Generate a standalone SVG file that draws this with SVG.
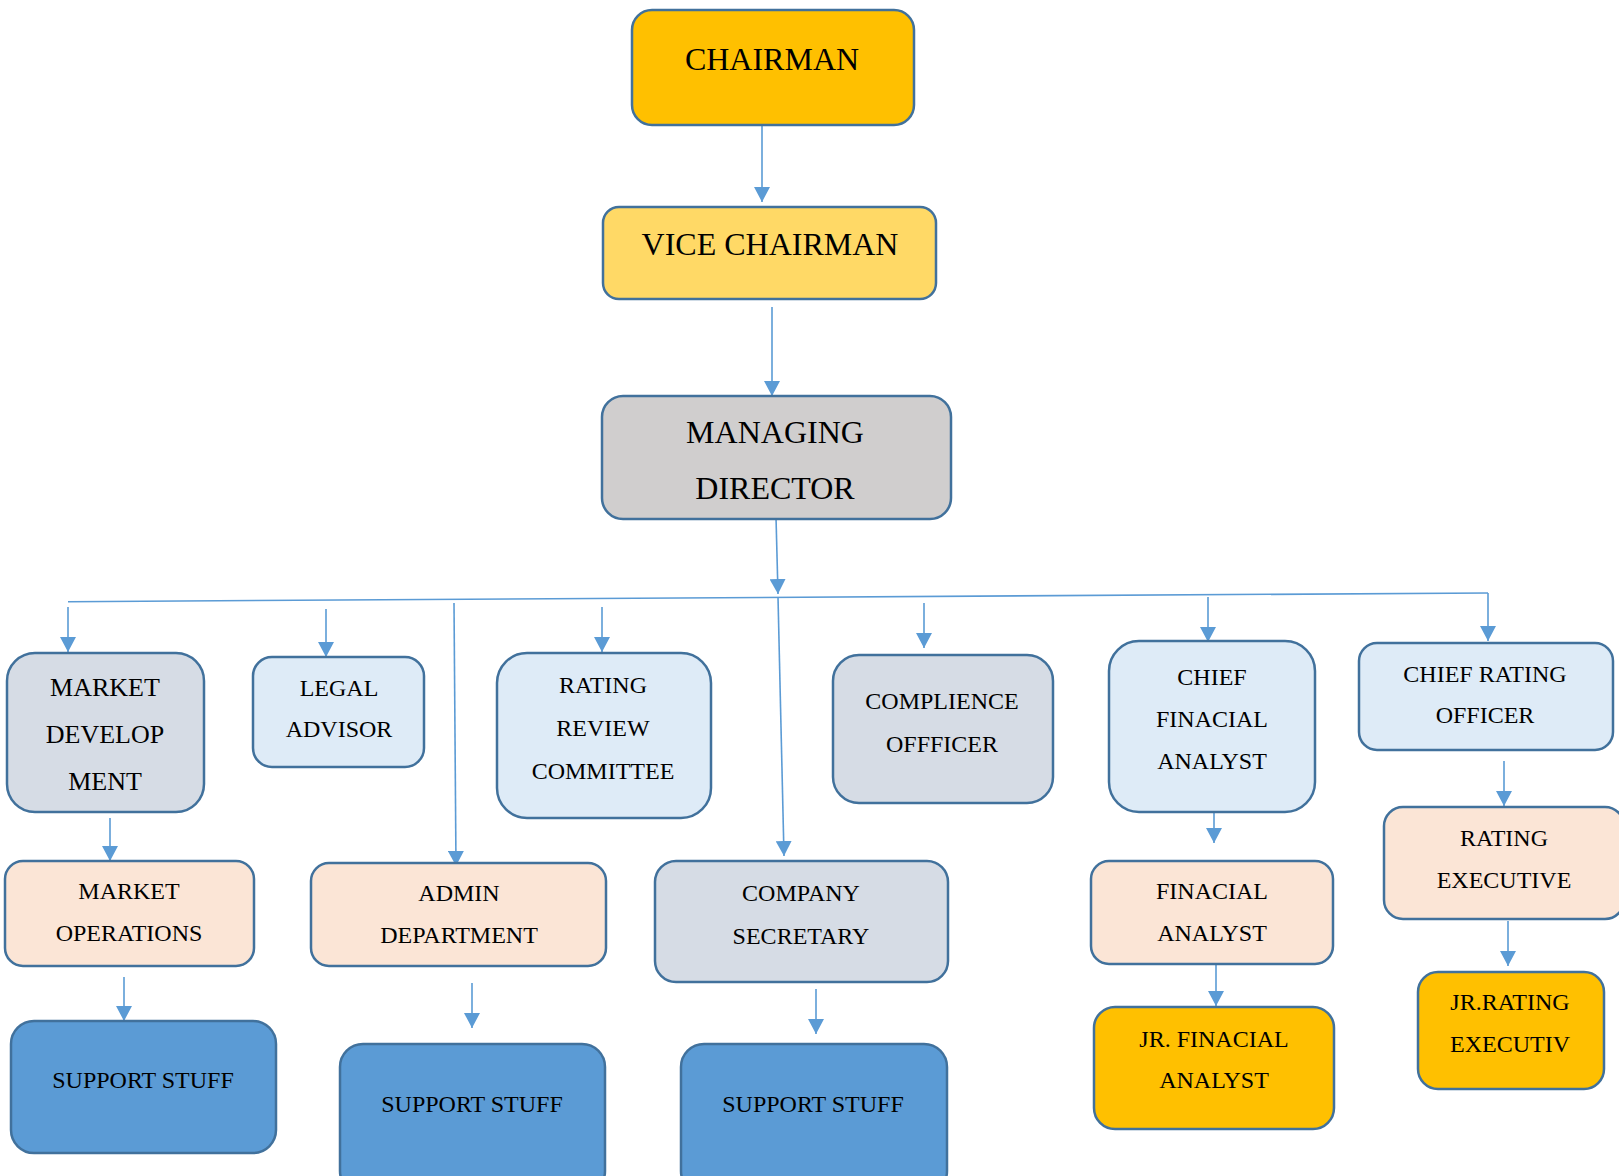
<svg xmlns="http://www.w3.org/2000/svg" width="1619" height="1176" viewBox="0 0 1619 1176">
<style>
.box{stroke:#41719C;stroke-width:2.5}
.gold{fill:#FFC000}.ylw{fill:#FFD966}.gry{fill:#D0CECE}.slt{fill:#D6DCE5}.lbl{fill:#DEEBF7}.pch{fill:#FBE5D6}.blu{fill:#5B9BD5}
text{font-family:"Liberation Serif","Times New Roman",serif;fill:#000;text-anchor:middle}
.t32{font-size:32px}.t26{font-size:26px}.t24{font-size:24px}
.con line{stroke:#5B9BD5;stroke-width:1.6;fill:none}
.con line.a{marker-end:url(#ah)}
</style>
<defs>
<marker id="ah" markerUnits="userSpaceOnUse" markerWidth="16" markerHeight="16" refX="15" refY="8" orient="auto">
<path d="M0,0 L15,8 L0,16 z" fill="#5B9BD5"/>
</marker>
</defs>
<rect width="1619" height="1176" fill="#fff"/>
<g class="con">
<line class="a" x1="762" y1="125" x2="762" y2="202"/>
<line class="a" x1="772" y1="307" x2="772" y2="396"/>
<line class="a" x1="776" y1="517" x2="778" y2="594"/>
<line x1="68" y1="601.7" x2="1488" y2="593"/>
<line class="a" x1="68" y1="607" x2="68" y2="652"/>
<line class="a" x1="326" y1="609" x2="326" y2="657"/>
<line class="a" x1="454" y1="603" x2="456" y2="866"/>
<line class="a" x1="602" y1="607" x2="602" y2="652"/>
<line class="a" x1="778" y1="597" x2="784" y2="856"/>
<line class="a" x1="924" y1="603" x2="924" y2="648"/>
<line class="a" x1="1208" y1="597" x2="1208" y2="642"/>
<line class="a" x1="1488" y1="593" x2="1488" y2="641"/>
<line class="a" x1="110" y1="818" x2="110" y2="861"/>
<line class="a" x1="124" y1="977" x2="124" y2="1021"/>
<line class="a" x1="472" y1="983" x2="472" y2="1028"/>
<line class="a" x1="816" y1="989" x2="816" y2="1034"/>
<line class="a" x1="1214" y1="799" x2="1214" y2="843"/>
<line class="a" x1="1216" y1="962" x2="1216" y2="1006"/>
<line class="a" x1="1504" y1="761" x2="1504" y2="806"/>
<line class="a" x1="1508" y1="921" x2="1508" y2="966"/>
</g>
<g id="chairman"><rect class="box gold" x="632" y="10" width="282" height="115" rx="20"/><text class="t32" x="772" y="70">CHAIRMAN</text></g>
<g id="vice-chairman"><rect class="box ylw" x="603" y="207" width="333" height="92" rx="16"/><text class="t32" x="770" y="255">VICE CHAIRMAN</text></g>
<g id="managing-director"><rect class="box gry" x="602" y="396" width="349" height="123" rx="21"/><text class="t32" x="775" y="443">MANAGING</text><text class="t32" x="775" y="499">DIRECTOR</text></g>
<g id="market-development"><rect class="box slt" x="7" y="653" width="197" height="159" rx="28"/><text class="t26" x="105" y="696">MARKET</text><text class="t26" x="105" y="743">DEVELOP</text><text class="t26" x="105" y="790">MENT</text></g>
<g id="legal-advisor"><rect class="box lbl" x="253" y="657" width="171" height="110" rx="19"/><text class="t24" x="339" y="696">LEGAL</text><text class="t24" x="339" y="737">ADVISOR</text></g>
<g id="rating-review-committee"><rect class="box lbl" x="497" y="653" width="214" height="165" rx="30"/><text class="t24" x="603" y="693">RATING</text><text class="t24" x="603" y="736">REVIEW</text><text class="t24" x="603" y="779">COMMITTEE</text></g>
<g id="compliance-officer"><rect class="box slt" x="833" y="655" width="220" height="148" rx="26"/><text class="t24" x="942" y="709">COMPLIENCE</text><text class="t24" x="942" y="752">OFFFICER</text></g>
<g id="chief-financial-analyst"><rect class="box lbl" x="1109" y="641" width="206" height="171" rx="30"/><text class="t24" x="1212" y="685">CHIEF</text><text class="t24" x="1212" y="727">FINACIAL</text><text class="t24" x="1212" y="769">ANALYST</text></g>
<g id="chief-rating-officer"><rect class="box lbl" x="1359" y="643" width="254" height="107" rx="18"/><text class="t24" x="1485" y="682">CHIEF RATING</text><text class="t24" x="1485" y="723">OFFICER</text></g>
<g id="market-operations"><rect class="box pch" x="5" y="861" width="249" height="105" rx="18"/><text class="t24" x="129" y="899">MARKET</text><text class="t24" x="129" y="941">OPERATIONS</text></g>
<g id="admin-department"><rect class="box pch" x="311" y="863" width="295" height="103" rx="18"/><text class="t24" x="459" y="901">ADMIN</text><text class="t24" x="459" y="943">DEPARTMENT</text></g>
<g id="company-secretary"><rect class="box slt" x="655" y="861" width="293" height="121" rx="21"/><text class="t24" x="801" y="901">COMPANY</text><text class="t24" x="801" y="944">SECRETARY</text></g>
<g id="financial-analyst"><rect class="box pch" x="1091" y="861" width="242" height="103" rx="18"/><text class="t24" x="1212" y="899">FINACIAL</text><text class="t24" x="1212" y="941">ANALYST</text></g>
<g id="rating-executive"><rect class="box pch" x="1384" y="807" width="240" height="112" rx="19"/><text class="t24" x="1504" y="846">RATING</text><text class="t24" x="1504" y="888">EXECUTIVE</text></g>
<g id="support-stuff-1"><rect class="box blu" x="11" y="1021" width="265" height="132" rx="23"/><text class="t24" x="143" y="1088">SUPPORT STUFF</text></g>
<g id="support-stuff-2"><rect class="box blu" x="340" y="1044" width="265" height="150" rx="23"/><text class="t24" x="472" y="1112">SUPPORT STUFF</text></g>
<g id="support-stuff-3"><rect class="box blu" x="681" y="1044" width="266" height="150" rx="23"/><text class="t24" x="813" y="1112">SUPPORT STUFF</text></g>
<g id="jr-financial-analyst"><rect class="box gold" x="1094" y="1007" width="240" height="122" rx="21"/><text class="t24" x="1214" y="1047">JR. FINACIAL</text><text class="t24" x="1214" y="1088">ANALYST</text></g>
<g id="jr-rating-executive"><rect class="box gold" x="1418" y="972" width="186" height="117" rx="20"/><text class="t24" x="1510" y="1010">JR.RATING</text><text class="t24" x="1510" y="1052">EXECUTIV</text></g>
</svg>
